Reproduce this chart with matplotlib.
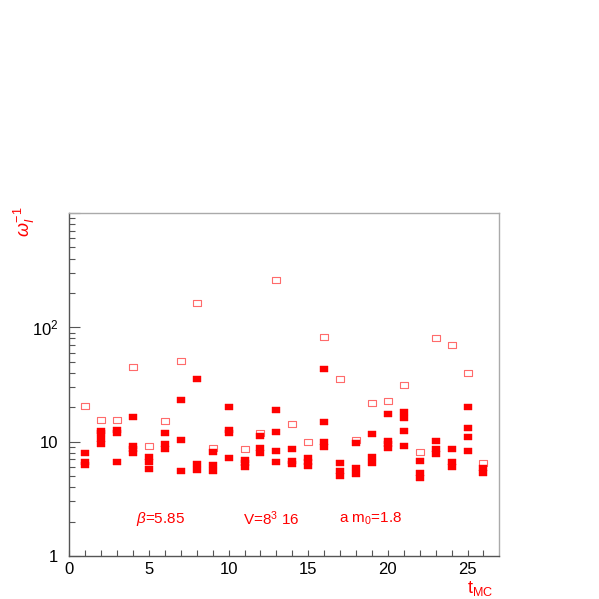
import numpy as np
import matplotlib
matplotlib.use('Agg')
import matplotlib.pyplot as plt
from matplotlib.ticker import FixedLocator, FixedFormatter, NullFormatter

plt.rcParams['font.family'] = ['Liberation Sans', 'DejaVu Sans']
plt.rcParams['mathtext.fontset'] = 'custom'
plt.rcParams['mathtext.rm'] = 'Liberation Sans'
plt.rcParams['mathtext.it'] = 'Liberation Sans:italic'

# filled points: (t_MC, 1/omega)
filled_t = [1, 1, 1,
            2, 2, 2, 2,
            3, 3, 3,
            4, 4, 4, 4,
            5, 5, 5,
            6, 6, 6,
            7, 7, 7,
            8, 8, 8,
            9, 9, 9,
            10, 10, 10, 10,
            11, 11, 11,
            12, 12, 12,
            13, 13, 13, 13,
            14, 14, 14,
            15, 15, 15,
            16, 16, 16, 16,
            17, 17, 17,
            18, 18, 18,
            19, 19, 19,
            20, 20, 20, 20,
            21, 21, 21, 21,
            22, 22, 22,
            23, 23, 23,
            24, 24, 24,
            25, 25, 25, 25,
            26, 26]
filled_w = [7.95, 6.70, 6.27,
            12.5, 11.8, 10.6, 9.6,
            12.6, 11.9, 6.6,
            16.3, 9.15, 8.55, 7.95,
            7.33, 6.63, 5.82,
            11.8, 9.6, 8.7,
            23.0, 10.3, 5.53,
            35.0, 6.44, 5.70,
            8.16, 6.28, 5.57,
            20.1, 12.6, 12.0, 7.23,
            6.97, 6.45, 6.0,
            11.1, 8.79, 7.95,
            18.8, 12.1, 8.23, 6.67,
            8.6, 6.84, 6.44,
            7.19, 6.6, 6.13,
            43.4, 14.8, 9.95, 8.99,
            6.5, 5.58, 5.0,
            9.65, 5.89, 5.21,
            11.6, 7.33, 6.5,
            17.4, 10.2, 9.5, 8.8,
            18.1, 16.2, 12.5, 9.2,
            6.77, 5.32, 4.81,
            10.1, 8.6, 7.8,
            8.56, 6.63, 6.06,
            20.1, 13.2, 10.9, 8.33,
            5.89, 5.32]

# open points
open_t = [1, 2, 3, 4, 5, 6, 7, 8, 9, 11, 12, 13, 14, 15, 16, 17, 18, 19, 20, 21, 22, 23, 24, 25, 26]
open_w = [20.5, 15.4, 15.4, 45.0, 9.2, 15.1, 51.0, 164, 8.79, 8.6, 11.97, 260, 14.3, 9.95,
          81.6, 35.0, 10.3, 21.9, 22.6, 31.2, 8.06, 81.0, 70.0, 39.5, 6.46]

rect = [(-1, -0.75), (1, -0.75), (1, 0.75), (-1, 0.75), (-1, -0.75)]

fig = plt.figure(figsize=(5.99, 5.99), dpi=100)
ax = fig.add_axes([0.1157, 0.0718, 0.718, 0.5726])

ax.plot(open_t, open_w, linestyle='none', marker=rect, markersize=5.2,
        markerfacecolor='none', markeredgecolor='#ff6b6b', markeredgewidth=0.8)
ax.plot(filled_t, filled_w, linestyle='none', marker=rect, markersize=5.2,
        markerfacecolor='#ff0000', markeredgecolor='#ff0000', markeredgewidth=0.3)

ax.set_yscale('log')
ax.set_xlim(0, 27)
ax.set_ylim(1, 1000)

ax.xaxis.set_major_locator(FixedLocator([0, 5, 10, 15, 20, 25]))
ax.xaxis.set_minor_locator(FixedLocator(range(0, 27)))
ax.yaxis.set_major_locator(FixedLocator([1, 10, 100, 1000]))
ax.yaxis.set_major_formatter(FixedFormatter(['1', '10', '10$^{2}$', '']))
minors = [m * 10 ** d for d in range(3) for m in range(2, 10)]
ax.yaxis.set_minor_locator(FixedLocator(minors))
ax.yaxis.set_minor_formatter(NullFormatter())

ax.tick_params(which='both', direction='in', colors='#555555', labelcolor='black', labelsize=12, width=0.8)
ax.tick_params(axis='x', which='major', length=4, pad=4)
ax.tick_params(axis='x', which='minor', length=4)
ax.tick_params(axis='y', which='major', length=8, pad=8)
ax.tick_params(axis='y', which='minor', length=4)

for s in ['left', 'bottom']:
    ax.spines[s].set_color('#555555')
    ax.spines[s].set_linewidth(1.0)
for s in ['top', 'right']:
    ax.spines[s].set_color('#aaaaaa')
    ax.spines[s].set_linewidth(1.0)

fig.text(0.040, 0.630, r'$\omega_I^{-1}$', color='#ff0000', rotation=90, fontsize=13, ha='center', va='center')
fig.text(0.802, 0.018, r'$\mathrm{t}_{\mathrm{MC}}$', color='#ff0000', fontsize=13, ha='center', va='center')

ax.text(5.7, 2.12, r'$\beta$=5.85', color='#ff0000', fontsize=11, ha='center', va='center')
ax.text(12.7, 2.12, 'V=8$^3$ 16', color='#ff0000', fontsize=11, ha='center', va='center')
ax.text(18.9, 2.12, 'a m$_0$=1.8', color='#ff0000', fontsize=11, ha='center', va='center')

fig.savefig('out.png', dpi=100)
